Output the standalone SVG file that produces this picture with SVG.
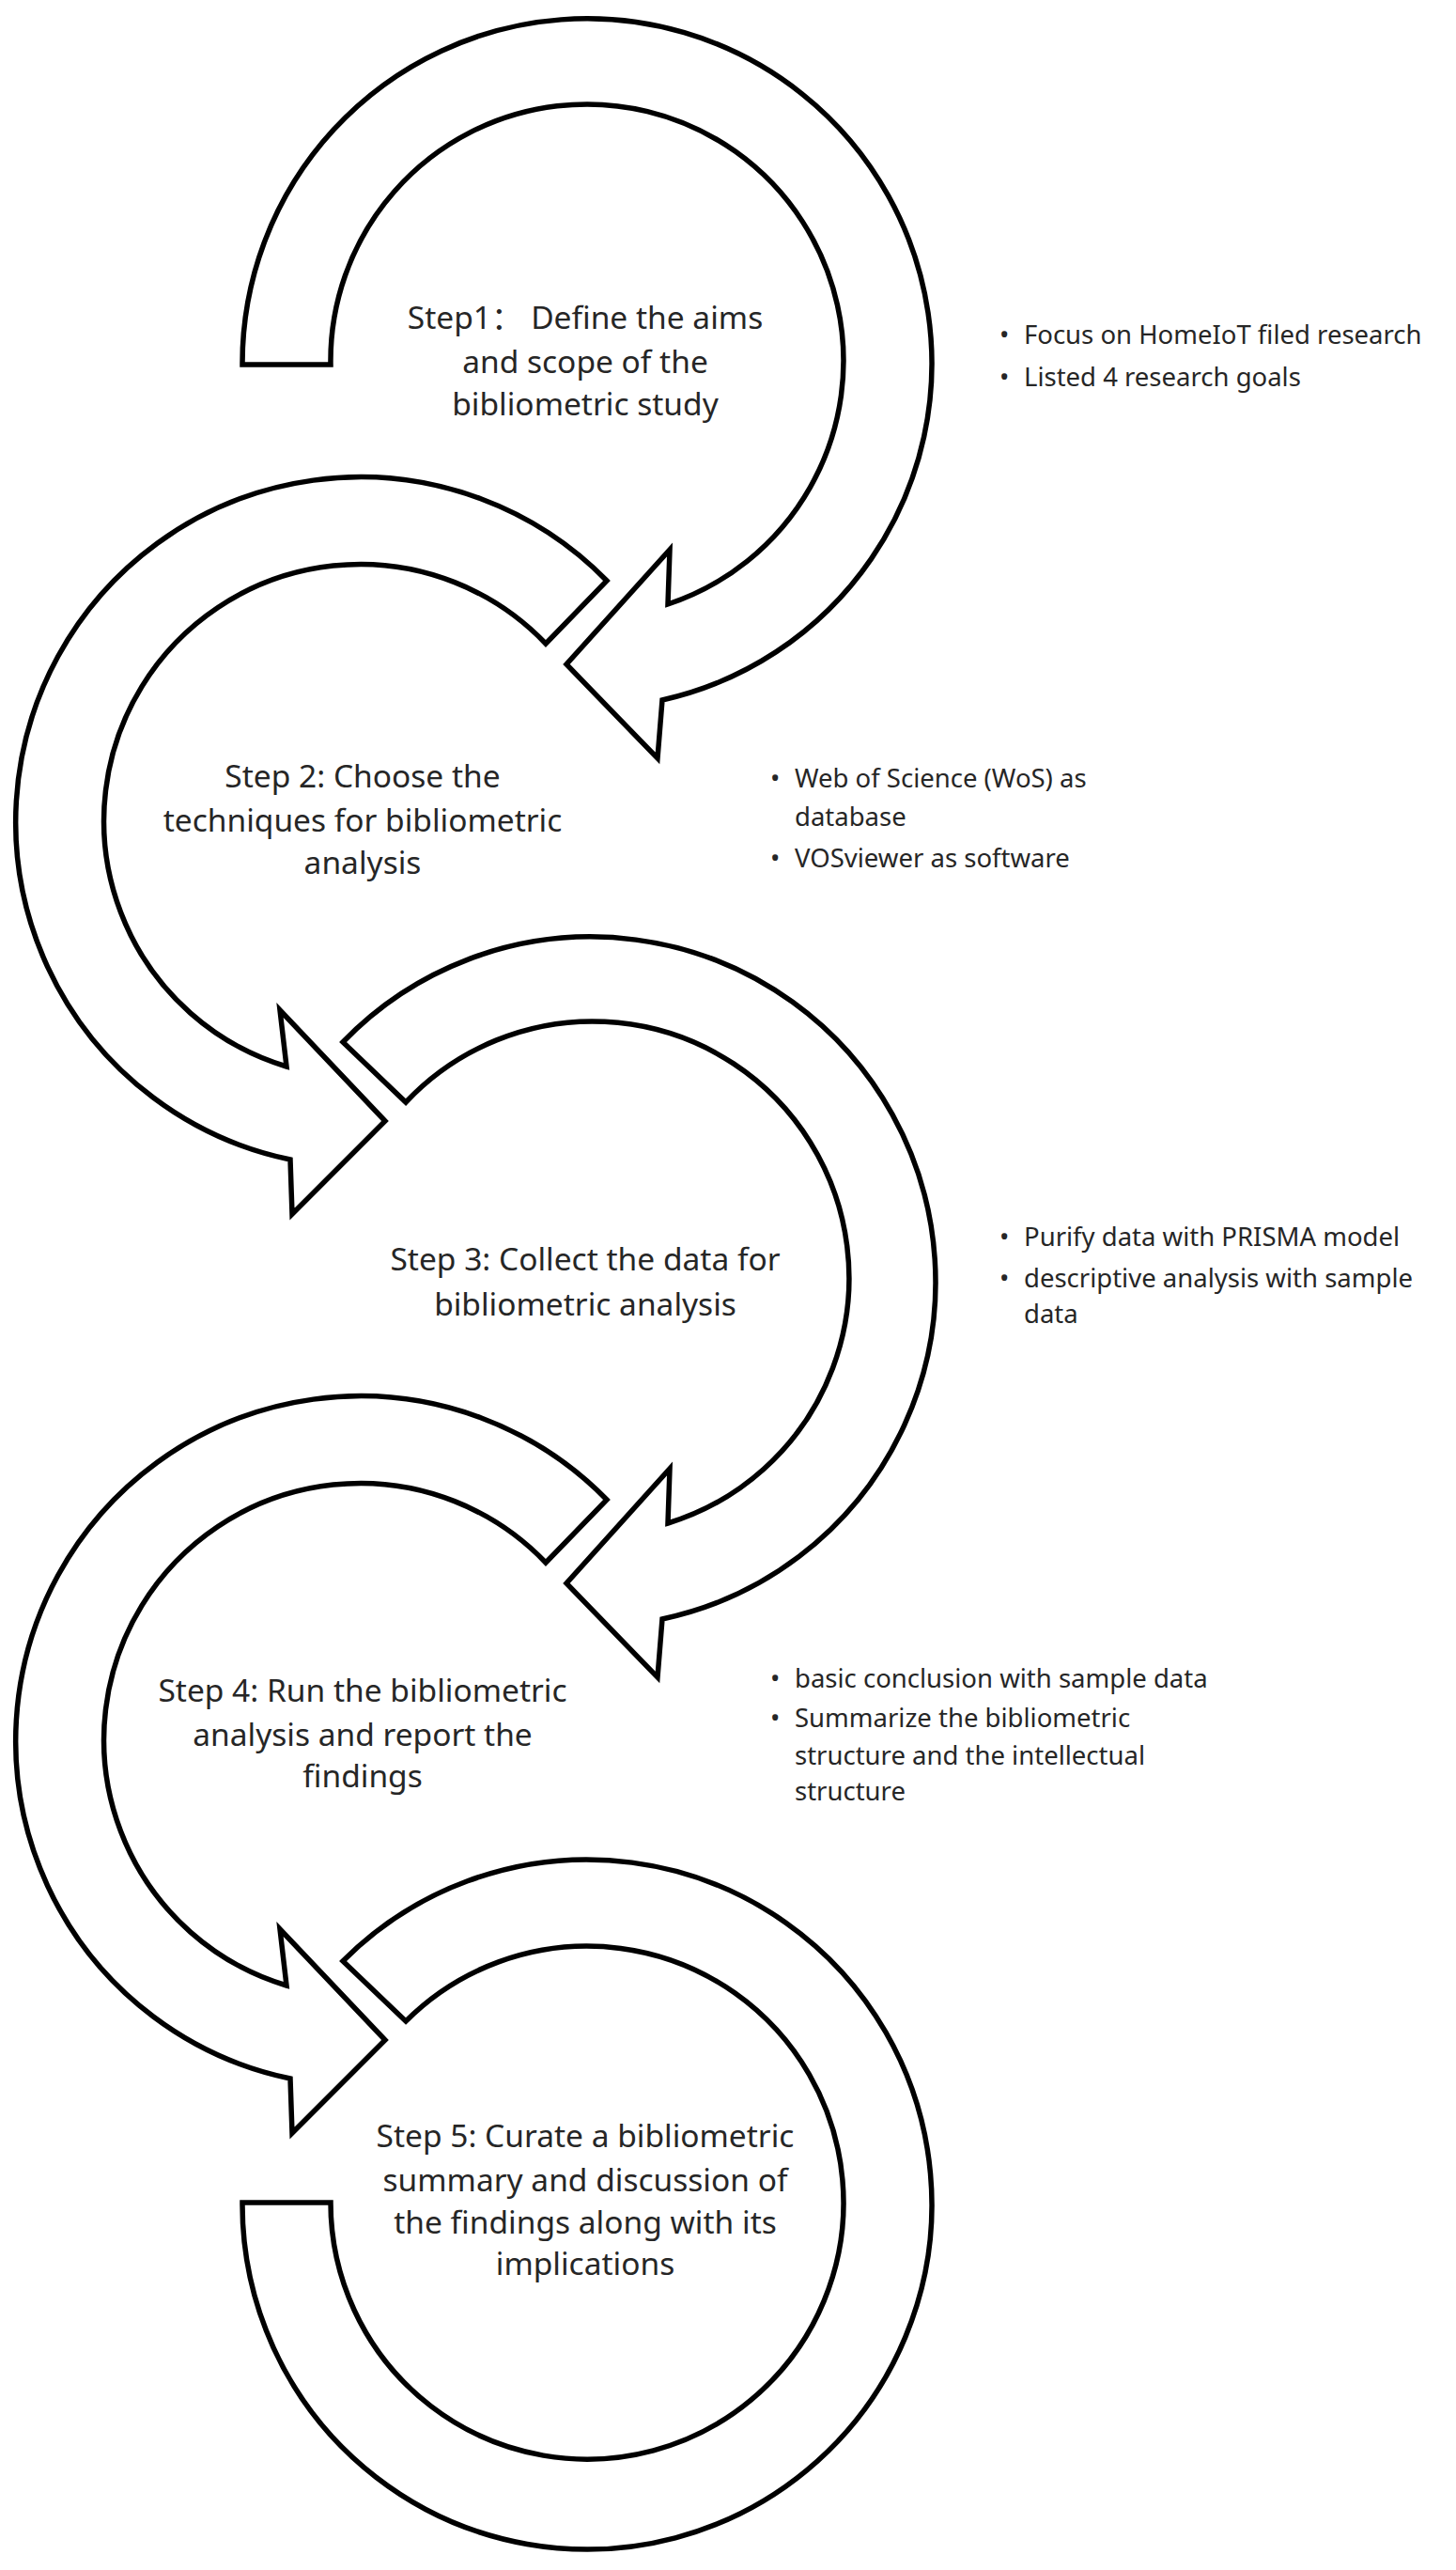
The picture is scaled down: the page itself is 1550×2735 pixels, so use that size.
<svg xmlns="http://www.w3.org/2000/svg" width="1550" height="2735" viewBox="0 0 1550 2735">
<style>
.ring{fill:#fff;stroke:#000;stroke-width:5.5;stroke-linejoin:miter}
.st{font-family:"Noto Sans","Noto Sans CJK SC",sans-serif;font-size:33.5px;fill:#262626;text-anchor:middle}
.bl{font-family:"Noto Sans","Noto Sans CJK SC",sans-serif;font-size:27.5px;fill:#262626}
</style>
<rect width="1550" height="2735" fill="#fff"/>
<g id="connectors">
<path id="ring1" class="ring" d="M 258 388 A 367 367 0 1 1 705 745 L 700 807 L 603 707 L 713 585 L 711 643 A 273 273 0 1 0 352 388 Z"/>
<path id="ring2" class="ring" d="M 646 618 A 367 367 0 1 0 309 1234 L 311 1292 L 410 1193 L 298 1075 L 305 1135 A 273 273 0 1 1 581 685 Z"/>
<path id="ring3" class="ring" d="M 365 1109 A 367 367 0 1 1 705 1723 L 700 1785 L 603 1685 L 713 1563 L 711 1621 A 273 273 0 1 0 432 1173 Z"/>
<path id="ring4" class="ring" d="M 646 1596 A 367 367 0 1 0 309 2212 L 311 2270 L 410 2171 L 298 2053 L 305 2113 A 273 273 0 1 1 581 1663 Z"/>
<path id="ring5" class="ring" d="M 365 2087 A 367 367 0 1 1 258 2344 L 352 2344 A 273 273 0 1 0 432 2151 Z"/>
</g>
<g id="step1">
<text class="st" x="623" y="350">Step1： Define the aims</text>
<text class="st" x="623" y="397">and scope of the</text>
<text class="st" x="623" y="442">bibliometric study</text>
</g>
<g id="notes1">
<text class="bl" x="1064" y="366">•</text><text class="bl" x="1090" y="366">Focus on HomeIoT filed research</text>
<text class="bl" x="1064" y="411">•</text><text class="bl" x="1090" y="411">Listed 4 research goals</text>
</g>
<g id="step2">
<text class="st" x="386" y="838">Step 2: Choose the</text>
<text class="st" x="386" y="885">techniques for bibliometric</text>
<text class="st" x="386" y="930">analysis</text>
</g>
<g id="notes2">
<text class="bl" x="820" y="838">•</text><text class="bl" x="846" y="838">Web of Science (WoS) as</text>
<text class="bl" x="846" y="879">database</text>
<text class="bl" x="820" y="923">•</text><text class="bl" x="846" y="923">VOSviewer as software</text>
</g>
<g id="step3">
<text class="st" x="623" y="1352">Step 3: Collect the data for</text>
<text class="st" x="623" y="1400">bibliometric analysis</text>
</g>
<g id="notes3">
<text class="bl" x="1064" y="1326">•</text><text class="bl" x="1090" y="1326">Purify data with PRISMA model</text>
<text class="bl" x="1064" y="1370">•</text><text class="bl" x="1090" y="1370">descriptive analysis with sample</text>
<text class="bl" x="1090" y="1408">data</text>
</g>
<g id="step4">
<text class="st" x="386" y="1811">Step 4: Run the bibliometric</text>
<text class="st" x="386" y="1858">analysis and report the</text>
<text class="st" x="386" y="1902">findings</text>
</g>
<g id="notes4">
<text class="bl" x="820" y="1796">•</text><text class="bl" x="846" y="1796">basic conclusion with sample data</text>
<text class="bl" x="820" y="1838">•</text><text class="bl" x="846" y="1838">Summarize the bibliometric</text>
<text class="bl" x="846" y="1878">structure and the intellectual</text>
<text class="bl" x="846" y="1916">structure</text>
</g>
<g id="step5">
<text class="st" x="623" y="2285">Step 5: Curate a bibliometric</text>
<text class="st" x="623" y="2332">summary and discussion of</text>
<text class="st" x="623" y="2377">the findings along with its</text>
<text class="st" x="623" y="2421">implications</text>
</g>
</svg>
